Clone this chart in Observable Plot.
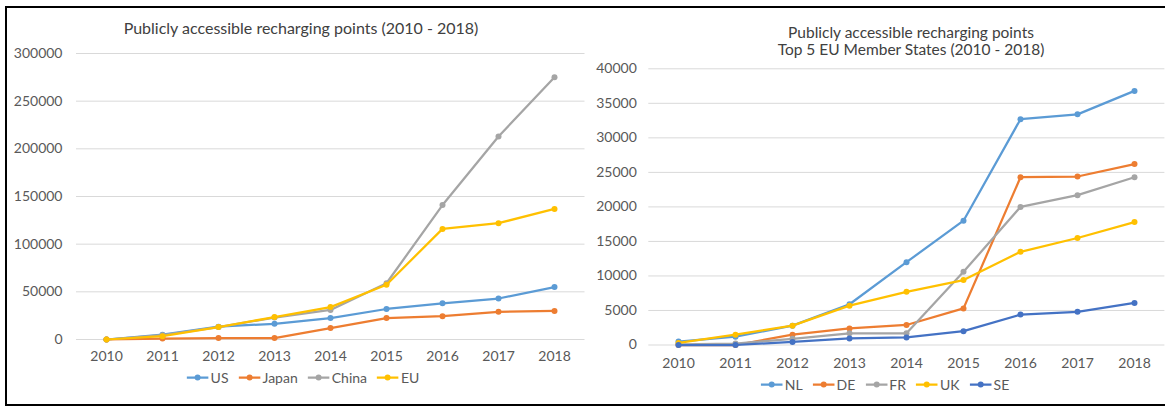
<!DOCTYPE html>
<html>
<head>
<meta charset="utf-8">
<script src="https://cdn.jsdelivr.net/npm/d3@7"></script>
<script src="https://cdn.jsdelivr.net/npm/@observablehq/plot@0.6"></script>
<style>
  html, body { margin: 0; padding: 0; background: #fff; }
  #wrap { position: relative; width: 1165px; height: 408px; overflow: hidden; background: #fff; font-family: Lato, "Open Sans", sans-serif; }
  #border { position: absolute; left: 5px; top: 6px; width: 1170px; height: 396px; border-top: 2px solid #000; border-left: 2px solid #000; border-bottom: 2px solid #000; }
  .title { position: absolute; color: #404040; font-size: 16px; text-align: center; line-height: 16px; white-space: nowrap; transform: translateX(-50%); }
  .legend { position: absolute; display: flex; gap: 10px; color: #595959; font-size: 14px; transform: translate(-50%, -50%); white-space: nowrap; align-items: center; }
  .legend span { display: inline-flex; align-items: center; gap: 2px; }
  .plot { position: absolute; top: 0; }
</style>
</head>
<body>
<div id="wrap">
  <div id="border"></div>
  <div class="title" style="left:301px; top:20px;">Publicly accessible recharging points (2010 - 2018)</div>
  <div class="title" style="left:911px; top:24px; font-size:15.5px;">Publicly accessible recharging points</div>
  <div class="title" style="left:911px; top:41px; font-size:15.5px;">Top 5 EU Member States (2010 - 2018)</div>
  <div id="left" class="plot" style="left:0px;"></div>
  <div id="right" class="plot" style="left:590px;"></div>
  <div id="legL" class="legend" style="left:303px; top:377px;"></div>
  <div id="legR" class="legend" style="left:885px; top:384px;"></div>
</div>
<script>
const years = [2010, 2011, 2012, 2013, 2014, 2015, 2016, 2017, 2018];

// Left chart: world regions
const worldNames = ["US", "Japan", "China", "EU"];
const us    = [0, 5000, 13500, 16500, 22500, 32000, 38000, 43000, 55000];
const japan = [0, 1000, 1500, 1500, 12000, 22500, 24500, 29000, 30000];
const china = [0, 4500, 13000, 23000, 31000, 59000, 141000, 213000, 275000];
const eu    = [0, 3500, 13000, 23500, 34000, 57500, 116000, 122000, 137000];
const worldTicks = [0, 50000, 100000, 150000, 200000, 250000, 300000];

// Right chart: top 5 EU member states
const euNames = ["NL", "DE", "FR", "UK", "SE"];
const nl = [500, 1200, 2800, 5900, 12000, 18000, 32700, 33400, 36800];
const de = [0, 0, 1500, 2400, 2900, 5300, 24300, 24400, 26200];
const fr = [100, 200, 900, 1700, 1700, 10600, 20000, 21700, 24300];
const uk = [300, 1500, 2800, 5700, 7700, 9400, 13500, 15500, 17800];
const se = [0, 0, 450, 950, 1100, 2000, 4400, 4800, 6100];
const euTicks = [0, 5000, 10000, 15000, 20000, 25000, 30000, 35000, 40000];

const colorsWorld = ["#5B9BD5", "#ED7D31", "#A5A5A5", "#FFC000"];
const colorsEU = ["#5B9BD5", "#ED7D31", "#A5A5A5", "#FFC000", "#4472C4"];

function rows(values) { return years.map((y, i) => ({year: y, value: values[i]})); }

function seriesMarks(list, colors) {
  const marks = [];
  list.forEach((vals, i) => {
    const data = rows(vals);
    marks.push(Plot.line(data, {x: "year", y: "value", stroke: colors[i], strokeWidth: 2.25, strokeLinejoin: "round"}));
    marks.push(Plot.dot(data, {x: "year", y: "value", fill: colors[i], r: 3}));
  });
  return marks;
}

const style = {fontFamily: "Lato, 'Open Sans', sans-serif", fontSize: "14px", color: "#595959", background: "transparent", overflow: "visible"};

const left = Plot.plot({
  width: 590, height: 408,
  marginLeft: 76, marginRight: 5.5, marginTop: 53, marginBottom: 69,
  style,
  x: {type: "point", domain: years, padding: 0.5, label: null},
  y: {domain: [0, 300000], label: null},
  marks: [
    Plot.gridY(worldTicks, {stroke: "#d9d9d9", strokeOpacity: 1}),
    Plot.axisY(worldTicks, {tickSize: 0, tickPadding: 14, tickFormat: d3.format("d"), label: null}),
    Plot.axisX(years, {tickSize: 0, tickPadding: 12, tickFormat: d => String(d), label: null}),
    ...seriesMarks([us, japan, china, eu], colorsWorld)
  ]
});
document.getElementById("left").appendChild(left);

const right = Plot.plot({
  width: 575, height: 408,
  marginLeft: 58.3, marginRight: 0.6, marginTop: 68.3, marginBottom: 63.5,
  style,
  x: {type: "point", domain: years, padding: 0.5, label: null},
  y: {domain: [0, 40000], label: null},
  marks: [
    Plot.gridY(euTicks, {stroke: "#d9d9d9", strokeOpacity: 1}),
    Plot.axisY(euTicks, {tickSize: 0, tickPadding: 12, tickFormat: d3.format("d"), label: null}),
    Plot.axisX(years, {tickSize: 0, tickPadding: 13, tickFormat: d => String(d), label: null}),
    ...seriesMarks([nl, de, fr, uk, se], colorsEU)
  ]
});
document.getElementById("right").appendChild(right);

function legend(el, names, colors) {
  const root = document.getElementById(el);
  names.forEach((n, i) => {
    const s = document.createElement("span");
    s.innerHTML = `<svg width="22" height="8"><line x1="0" y1="4" x2="22" y2="4" stroke="${colors[i]}" stroke-width="2.25"/><circle cx="11" cy="4" r="3" fill="${colors[i]}"/></svg>${n}`;
    root.appendChild(s);
  });
}
legend("legL", worldNames, colorsWorld);
legend("legR", euNames, colorsEU);
</script>
</body>
</html>
